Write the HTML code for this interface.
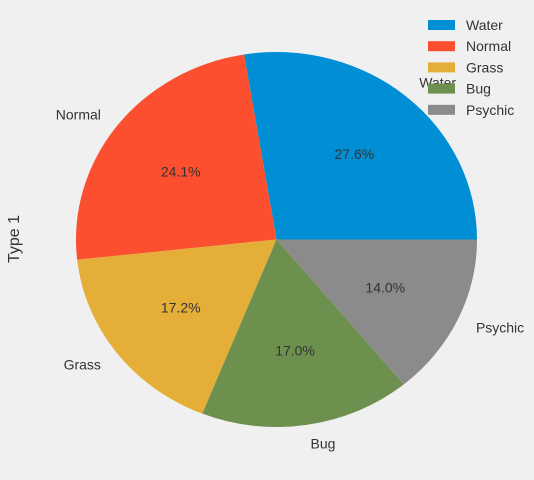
<!DOCTYPE html>
<html><head><meta charset="utf-8"><style>
html,body{margin:0;padding:0;background:#f0f0f0;}
svg{display:block;font-family:"Liberation Sans",sans-serif;}
</style></head><body>
<svg id="chart" width="534" height="480">
<rect width="534" height="480" fill="#f0f0f0"/>
<g id="slices"></g>
<g id="labels"></g>
<text x="19" y="239" font-size="16" fill="#333" text-anchor="middle" transform="rotate(-90 19 239)">Type 1</text>
<g id="legend"></g>
</svg>
<script>
const categories = ["Water","Normal","Grass","Bug","Psychic"];
const counts = [112,98,70,69,57];
const colors = ["#008fd5","#fc4f30","#e5ae38","#6d904f","#8b8b8b"];
const NS="http://www.w3.org/2000/svg";
const cx=276.5, cy=239.5, rx=200.5, ry=187.5;
const total=counts.reduce((a,b)=>a+b,0);
const sl=document.getElementById('slices'), lb=document.getElementById('labels'), lg=document.getElementById('legend');
function pt(a,f){return [cx+rx*f*Math.cos(a), cy-ry*f*Math.sin(a)];}
let start=0;
counts.forEach((v,i)=>{
  const sweep=v/total*2*Math.PI, end=start+sweep;
  const p0=pt(start,1), p1=pt(end,1);
  const path=document.createElementNS(NS,'path');
  path.setAttribute('d',`M${cx},${cy} L${p0[0]},${p0[1]} A${rx},${ry} 0 ${sweep>Math.PI?1:0} 0 ${p1[0]},${p1[1]} Z`);
  path.setAttribute('fill',colors[i]);
  
  
  sl.appendChild(path);
  const mid=(start+end)/2;
  const lp=pt(mid,1.1);
  const t=document.createElementNS(NS,'text');
  t.setAttribute('x',lp[0]);t.setAttribute('y',lp[1]+5);
  t.setAttribute('font-size','14');t.setAttribute('fill','#333');
  t.setAttribute('text-anchor',Math.cos(mid)>=0?'start':'end');
  t.textContent=categories[i];
  
  
  lb.appendChild(t);
  const pp=pt(mid,0.6);
  const q=document.createElementNS(NS,'text');
  q.setAttribute('x',pp[0]);q.setAttribute('y',pp[1]+5);
  q.setAttribute('font-size','14');q.setAttribute('fill','#333');q.setAttribute('text-anchor','middle');
  q.textContent=(v/total*100).toFixed(1)+'%';
  
  
  lb.appendChild(q);
  start=end;
});
categories.forEach((c,i)=>{
  const y=20+i*21.2;
  const r=document.createElementNS(NS,'rect');
  r.setAttribute('x',428);r.setAttribute('y',y);r.setAttribute('width',27);r.setAttribute('height',10);
  r.setAttribute('fill',colors[i]);
  
  
  lg.appendChild(r);
  const t=document.createElementNS(NS,'text');
  t.setAttribute('x',466);t.setAttribute('y',y+10);t.setAttribute('font-size','14');t.setAttribute('fill','#333');
  t.textContent=c;
  
  
  lg.appendChild(t);
});
</script>
</body></html>
